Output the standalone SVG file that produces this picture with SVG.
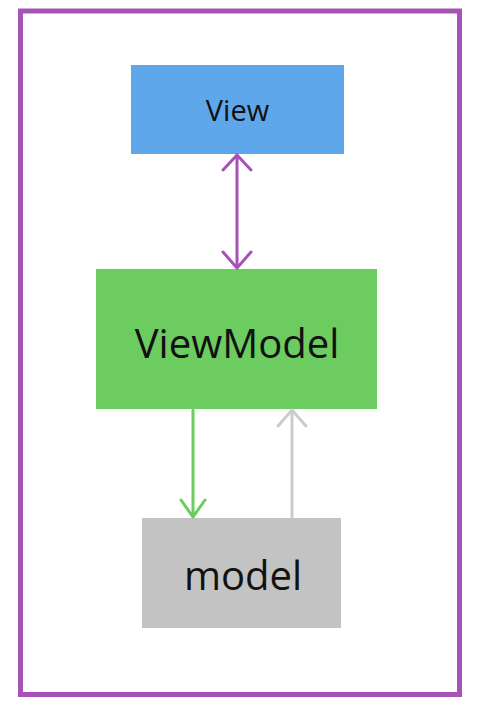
<svg xmlns="http://www.w3.org/2000/svg" width="480" height="715" viewBox="0 0 480 715">
<style>
.lbl{font-family:"Open Sans","Noto Sans","DejaVu Sans",sans-serif;fill:#111;text-anchor:middle}
.c{fill:none;stroke-width:3;stroke-linecap:round;stroke-linejoin:round}
</style>
<rect width="480" height="715" fill="#fff"/>
<rect id="frame" x="20.5" y="11" width="439" height="683.5" fill="none" stroke="#A752B7" stroke-width="5"/>
<g id="view"><rect x="131" y="65" width="213" height="89" fill="#5DA7EA"/><text class="lbl" x="237.5" y="121" font-size="29">View</text></g>
<g id="viewmodel"><rect x="96" y="269" width="281" height="140" fill="#6DCC5F"/><text class="lbl" x="237" y="358" font-size="40">ViewModel</text></g>
<g id="model"><rect x="142" y="518" width="199" height="110" fill="#C3C3C3"/><text class="lbl" x="243" y="590" font-size="40">model</text></g>
<g id="connectors">
<path class="c" stroke="#A752B7" d="M237 155V268M223 170L237 155L251 170M223 252L237 268L251 252"/>
<path class="c" stroke="#6DCC5F" d="M193 410V517M181 500L193 517L205 500"/>
<path class="c" stroke="#CCCCCC" d="M292 517V410M278 426L292 410L306 426"/>
</g>
</svg>
